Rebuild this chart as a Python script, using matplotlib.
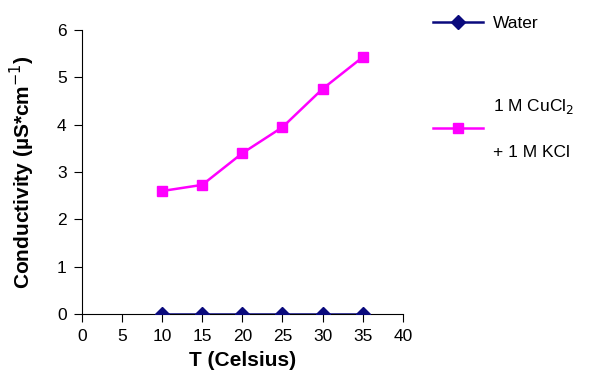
import matplotlib
matplotlib.use("Agg")
import matplotlib.pyplot as plt

plt.rcParams["font.family"] = ["Liberation Sans", "DejaVu Sans"]

temps = [10, 15, 20, 25, 30, 35]
water = [0, 0, 0, 0, 0, 0]
cucl_kcl = [2.60, 2.73, 3.40, 3.95, 4.76, 5.43]

fig = plt.figure(figsize=(5.89, 3.82), dpi=100)
ax = fig.add_axes([0.139, 0.178, 0.545, 0.743])

ax.plot(temps, water, color="#0a0a7d", lw=1.8, marker="D", ms=7.5,
        label="Water", zorder=3)
ax.plot(temps, cucl_kcl, color="#ff00ff", lw=1.8, marker="s", ms=7.5,
        label="1 M CuCl$_2$\n+ 1 M KCl", zorder=2)

ax.set_xlim(0, 40)
ax.set_ylim(0, 6)
ax.set_xticks(range(0, 41, 5))
ax.set_yticks(range(0, 7))
for sp in ("top", "right"):
    ax.spines[sp].set_visible(False)
ax.tick_params(direction="out", length=6, labelsize=12.5, pad=5)
ax.set_xlabel("T (Celsius)", fontsize=15, fontweight="bold", labelpad=5)
ax.set_ylabel("Conductivity (\u00b5S*cm$^{-1}$)", fontsize=15,
              fontweight="bold", labelpad=14)

leg = fig.legend(loc="upper left", bbox_to_anchor=(0.708, 1.0),
                 frameon=False, fontsize=12.5, handlelength=2.9,
                 handletextpad=0.6, labelspacing=3.8)
leg.get_texts()[1].set_linespacing(3.45)

fig.savefig("out.png", dpi=100)
